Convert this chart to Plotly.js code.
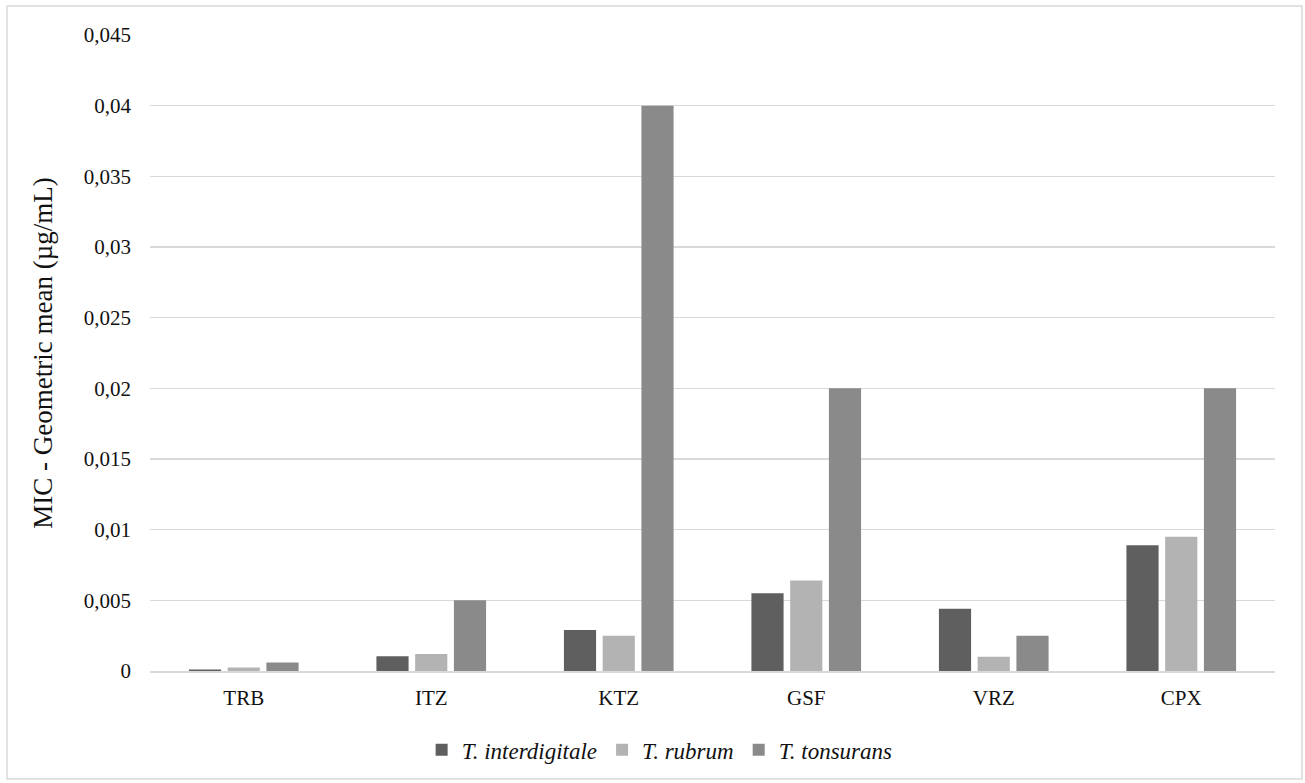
<!DOCTYPE html>
<html>
<head>
<meta charset="utf-8">
<script src="https://cdn.plot.ly/plotly-3.0.1.min.js"></script>
<style>html,body{margin:0;padding:0;background:#fff;}#chart{width:1305px;height:783px;}</style>
</head>
<body>
<div id="chart"></div>
<script>
const categories = ["TRB", "ITZ", "KTZ", "GSF", "VRZ", "CPX"];
const seriesNames = ["T. interdigitale", "T. rubrum", "T. tonsurans"];
const interdigitale = [0.0001, 0.00105, 0.0029, 0.0055, 0.0044, 0.0089];
const rubrum = [0.00025, 0.0012, 0.0025, 0.0064, 0.001, 0.0095];
const tonsurans = [0.0006, 0.005, 0.04, 0.02, 0.0025, 0.02];
const yTicks = [0, 0.005, 0.01, 0.015, 0.02, 0.025, 0.03, 0.035, 0.04, 0.045];

const colors = ["#5f5f5f", "#b3b3b3", "#8a8a8a"];
const values = [interdigitale, rubrum, tonsurans];
const traces = values.map((v, i) => ({
  type: "bar",
  x: categories,
  y: v,
  name: "<i>" + seriesNames[i] + "</i>",
  marker: {color: colors[i], line: {width: 0}},
  hoverinfo: "x+y+name"
}));

const layout = {
  width: 1305, height: 783,
  margin: {l: 150, r: 30, t: 35, b: 110},
  paper_bgcolor: "#ffffff",
  plot_bgcolor: "#ffffff",
  separators: ", ",
  barmode: "group",
  bargap: 0.38,
  bargroupgap: 0.17,
  font: {family: "Liberation Serif, Times New Roman, serif", color: "#111", size: 20},
  xaxis: {
    showgrid: false, zeroline: false, showline: true, linecolor: "#d9d9d9", linewidth: 1.5,
    ticks: "", tickfont: {size: 21, color: "#111"}, ticklabelstandoff: 7
  },
  yaxis: {
    range: [0, 0.045], tickvals: yTicks, showgrid: true, gridcolor: "#d9d9d9", gridwidth: 1.3,
    zeroline: false, showline: false, ticks: "", tickfont: {size: 21, color: "#111"},
    ticklabelstandoff: 18,
    title: {text: "MIC - Geometric mean (µg/mL)", font: {size: 27, color: "#111"}, standoff: 23}
  },
  legend: {
    orientation: "h", x: 0.453, xanchor: "center", y: -0.124, yanchor: "middle",
    font: {size: 23, color: "#111"}, itemwidth: 30, traceorder: "normal"
  },
  shapes: [{
    type: "rect", xref: "paper", yref: "paper",
    x0: -0.1271, x1: 1.024, y0: -0.17, y1: 1.0455,
    line: {color: "#d9d9d9", width: 1.5}, fillcolor: "rgba(0,0,0,0)", layer: "below"
  }],
  showlegend: true
};

Plotly.newPlot("chart", traces, layout, {displayModeBar: false, staticPlot: true});
</script>
</body>
</html>
